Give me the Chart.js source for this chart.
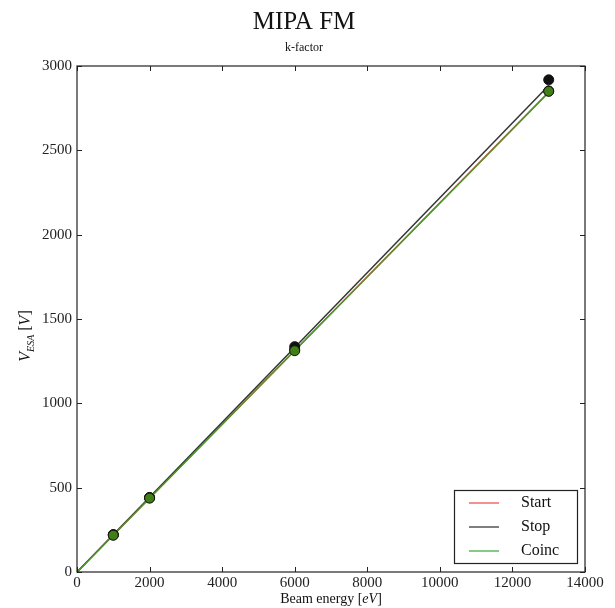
<!DOCTYPE html>
<html>
<head>
<meta charset="utf-8">
<script src="https://cdn.jsdelivr.net/npm/chart.js@4"></script>
<style>
  html, body { margin: 0; padding: 0; background: #fff; }
  #wrap { width: 615px; height: 608px; }
</style>
</head>
<body>
<div id="wrap"><canvas id="chart" width="615" height="608"></canvas></div>
<script>
const energies = [1000, 2000, 6000, 13000];
const startVals = [220, 440, 1318, 2852];
const stopVals = [222, 442, 1336, 2918];
const coincVals = [218, 438, 1312, 2850];
const fitX = [0, 13000];
const startFit = [0, 2846];
const stopFit = [0, 2884];
const coincFit = [0, 2843];
const xTicks = [0, 2000, 4000, 6000, 8000, 10000, 12000, 14000];
const yTicks = [0, 500, 1000, 1500, 2000, 2500, 3000];

const serif = '"Liberation Serif", "DejaVu Serif", serif';

function pts(xs, ys) {
    return xs.map((x, i) => ({ x: x, y: ys[i] }));
}

const legendItems = [
    { label: 'Start', color: '#f26b6b' },
    { label: 'Stop', color: '#555555' },
    { label: 'Coinc', color: '#5cb85c' }
];

// matplotlib-like frame, inward ticks, titles and legend
const mplFrame = {
    id: 'mplFrame',
    afterDraw(chart) {
        const ctx = chart.ctx;
        const a = chart.chartArea;
        const xs = chart.scales.x, ys = chart.scales.y;
        ctx.save();
        ctx.strokeStyle = '#222';
        ctx.lineWidth = 1.2;
        ctx.strokeRect(a.left, a.top, a.right - a.left, a.bottom - a.top);
        ctx.lineWidth = 1;
        xTicks.forEach(v => {
            const px = Math.round(xs.getPixelForValue(v)) + 0.5;
            ctx.beginPath();
            ctx.moveTo(px, a.bottom); ctx.lineTo(px, a.bottom - 5);
            ctx.moveTo(px, a.top); ctx.lineTo(px, a.top + 5);
            ctx.stroke();
        });
        yTicks.forEach(v => {
            const py = Math.round(ys.getPixelForValue(v)) + 0.5;
            ctx.beginPath();
            ctx.moveTo(a.left, py); ctx.lineTo(a.left + 5, py);
            ctx.moveTo(a.right, py); ctx.lineTo(a.right - 5, py);
            ctx.stroke();
        });

        // titles
        ctx.fillStyle = '#111';
        ctx.textAlign = 'center';
        ctx.textBaseline = 'alphabetic';
        ctx.font = '25px ' + serif;
        ctx.fillText('MIPA FM', 304, 29);
        ctx.font = '12px ' + serif;
        ctx.fillText('k-factor', 304, 51);

        // x axis title
        const p1 = 'Beam energy [', p2 = 'eV', p3 = ']';
        ctx.font = '14px ' + serif;
        const w1 = ctx.measureText(p1).width, w3 = ctx.measureText(p3).width;
        ctx.font = 'italic 14px ' + serif;
        const w2 = ctx.measureText(p2).width;
        let x0 = (a.left + a.right) / 2 - (w1 + w2 + w3) / 2;
        ctx.textAlign = 'left';
        ctx.font = '14px ' + serif;
        ctx.fillText(p1, x0, 603);
        ctx.font = 'italic 14px ' + serif;
        ctx.fillText(p2, x0 + w1, 603);
        ctx.font = '14px ' + serif;
        ctx.fillText(p3, x0 + w1 + w2, 603);

        // y axis title, rotated
        ctx.save();
        ctx.translate(24, 336);
        ctx.rotate(-Math.PI / 2);
        ctx.font = 'italic 16px ' + serif;
        const wv = ctx.measureText('V').width;
        ctx.font = 'italic 10px ' + serif;
        const we = ctx.measureText('ESA').width;
        ctx.font = '16px ' + serif;
        const wb = ctx.measureText(' [').width;
        ctx.font = 'italic 16px ' + serif;
        const wv2 = ctx.measureText('V').width;
        ctx.font = '16px ' + serif;
        const wc = ctx.measureText(']').width;
        let sx = -(wv + we + wb + wv2 + wc) / 2;
        ctx.font = 'italic 16px ' + serif;
        ctx.fillText('V', sx, 6); sx += wv;
        ctx.font = 'italic 10px ' + serif;
        ctx.fillText('ESA', sx, 10); sx += we;
        ctx.font = '16px ' + serif;
        ctx.fillText(' [', sx, 6); sx += wb;
        ctx.font = 'italic 16px ' + serif;
        ctx.fillText('V', sx, 6); sx += wv2;
        ctx.font = '16px ' + serif;
        ctx.fillText(']', sx, 6);
        ctx.restore();

        // legend box
        const lx = 454, ly = 490, lw = 123, lh = 73;
        ctx.fillStyle = '#fff';
        ctx.fillRect(lx, ly, lw, lh);
        ctx.strokeStyle = '#222';
        ctx.lineWidth = 1.2;
        ctx.strokeRect(lx + 0.5, ly + 0.5, lw, lh);
        ctx.font = '16px ' + serif;
        ctx.textBaseline = 'middle';
        legendItems.forEach((it, i) => {
            const cy = ly + 13 + i * 24;
            ctx.strokeStyle = it.color;
            ctx.lineWidth = 1.5;
            ctx.beginPath();
            ctx.moveTo(lx + 15, cy); ctx.lineTo(lx + 45, cy);
            ctx.stroke();
            ctx.fillStyle = '#111';
            ctx.fillText(it.label, lx + 67, cy);
        });
        ctx.restore();
    }
};

// lower order is drawn on top
function lineSet(label, ys, color, order) {
    return {
        label: label, data: pts(fitX, ys), showLine: true,
        borderColor: color, borderWidth: 1.5, pointRadius: 0, order: order
    };
}
function markSet(label, ys, fill, order) {
    return {
        label: label, data: pts(energies, ys), showLine: false,
        backgroundColor: fill, borderColor: '#111', borderWidth: 1,
        pointRadius: 5, order: order
    };
}

new Chart(document.getElementById('chart'), {
    type: 'scatter',
    data: {
        datasets: [
            lineSet('Start', startFit, '#e04040', 6),
            lineSet('Stop', stopFit, '#333333', 5),
            lineSet('Coinc', coincFit, '#4a9a2a', 4),
            markSet('Start pts', startVals, '#c02020', 3),
            markSet('Stop pts', stopVals, '#111111', 2),
            markSet('Coinc pts', coincVals, '#3f7f14', 1)
        ]
    },
    options: {
        responsive: false,
        animation: false,
        layout: { padding: { top: 66, right: 30, left: 0, bottom: 0 } },
        plugins: { legend: { display: false }, tooltip: { enabled: false } },
        scales: {
            x: {
                type: 'linear', min: 0, max: 14000,
                afterBuildTicks: s => { s.ticks = xTicks.map(v => ({ value: v })); },
                afterFit: s => { s.height = 36; },
                grid: { display: false, drawTicks: false },
                border: { display: false },
                ticks: { color: '#222', padding: 2, maxRotation: 0,
                    font: { family: serif, size: 15 }, callback: v => String(v) }
            },
            y: {
                type: 'linear', min: 0, max: 3000,
                afterBuildTicks: s => { s.ticks = yTicks.map(v => ({ value: v })); },
                afterFit: s => { s.width = 77; },
                grid: { display: false, drawTicks: false },
                border: { display: false },
                ticks: { color: '#222', padding: 5,
                    font: { family: serif, size: 15 }, callback: v => String(v) }
            }
        }
    },
    plugins: [mplFrame]
});
</script>
</body>
</html>
